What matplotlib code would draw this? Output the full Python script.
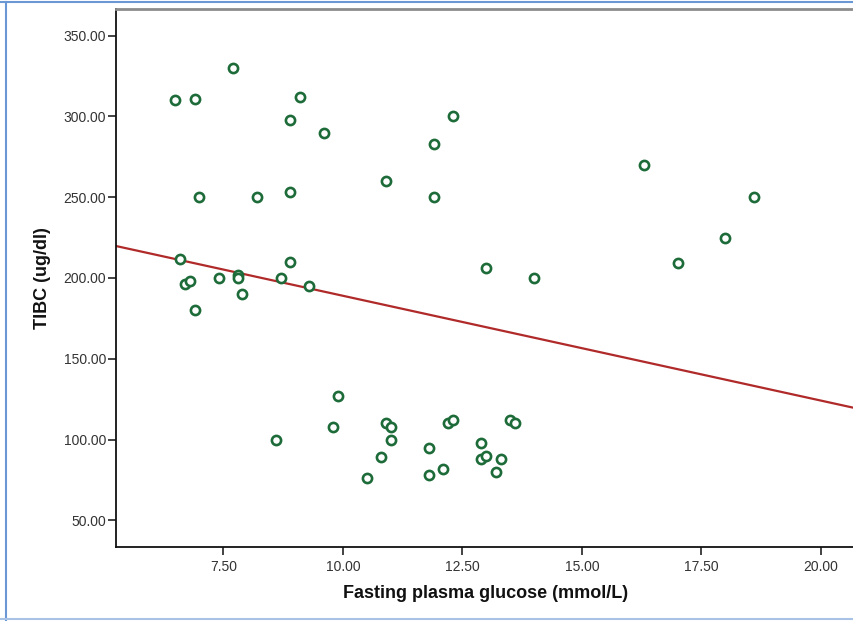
import numpy as np
import matplotlib
matplotlib.use("Agg")
import matplotlib.pyplot as plt
from matplotlib.lines import Line2D

# Fasting plasma glucose (mmol/L) vs TIBC (ug/dl)
glucose = [6.5, 6.9, 7.7, 9.1, 8.9, 9.6, 7.0, 8.2, 8.9, 10.9,
           11.9, 12.3, 11.9, 16.3, 18.6, 18.0, 17.0, 13.0, 14.0, 6.6,
           6.7, 6.8, 6.9, 7.4, 7.8, 7.8, 7.9, 8.7, 8.9, 9.3,
           8.6, 9.9, 9.8, 10.5, 10.8, 10.9, 11.0, 11.0, 11.8, 11.8,
           12.1, 12.2, 12.3, 12.9, 12.9, 13.0, 13.3, 13.2, 13.5, 13.6]
tibc = [310, 311, 330, 312, 298, 290, 250, 250, 253, 260,
        283, 300, 250, 270, 250, 225, 209, 206, 200, 212,
        196, 198, 180, 200, 202, 200, 190, 200, 210, 195,
        100, 127, 108, 76, 89, 110, 108, 100, 95, 78,
        82, 110, 112, 98, 88, 90, 88, 80, 112, 110]

# linear fit line as drawn in the chart
fit_intercept = 253.9
fit_slope = -6.49

xticks = [7.5, 10.0, 12.5, 15.0, 17.5, 20.0]
yticks = [50, 100, 150, 200, 250, 300, 350]

plt.rcParams['font.family'] = ['Liberation Sans', 'DejaVu Sans']

fig = plt.figure(figsize=(8.54, 6.21), dpi=100)
ax = fig.add_axes([0.1355, 0.1187, 0.8650, 0.8668])

xlim = (5.25, 20.7)
ax.set_xlim(*xlim)
ax.set_ylim(33.3, 366.5)

xs = np.array(xlim)
ax.plot(xs, fit_intercept + fit_slope * xs, color='#b02a2a', lw=1.6, zorder=2)
ax.plot(glucose, tibc, linestyle='none', marker='o', markersize=6.6,
        markerfacecolor='white', markeredgecolor='#1e6b3a', markeredgewidth=1.9,
        zorder=3, clip_on=False)

ax.set_xticks(xticks)
ax.set_yticks(yticks)
ax.set_xticklabels([f"{v:.2f}" for v in xticks])
ax.set_yticklabels([f"{v:.2f}" for v in yticks])
ax.tick_params(axis='both', direction='out', length=6, width=1.2,
               labelsize=10, labelcolor='#333333', color='#222222')
ax.tick_params(axis='y', pad=1)
ax.tick_params(axis='x', pad=3)

ax.spines['right'].set_visible(False)
ax.spines['top'].set_color('#8c8c8c')
ax.spines['top'].set_linewidth(2)
ax.spines['left'].set_color('#111111')
ax.spines['bottom'].set_color('#111111')
ax.spines['left'].set_linewidth(1.3)
ax.spines['bottom'].set_linewidth(1.3)

ax.set_xlabel('Fasting plasma glucose (mmol/L)', fontsize=13, fontweight='bold',
              color='#111111', labelpad=8)
ax.set_ylabel('TIBC (ug/dl)', fontsize=13, fontweight='bold',
              color='#111111', labelpad=9)

# light blue frame around the image
blue = '#6a98d4'
fig.add_artist(Line2D([0, 1], [0.997, 0.997], transform=fig.transFigure, color=blue, lw=1.5))
fig.add_artist(Line2D([0.0065, 0.0065], [0.002, 0.997], transform=fig.transFigure, color=blue, lw=1.5))
fig.add_artist(Line2D([0, 1], [0.003, 0.003], transform=fig.transFigure, color='#a9c3e6', lw=1.5))

fig.savefig('out.png', dpi=100)
